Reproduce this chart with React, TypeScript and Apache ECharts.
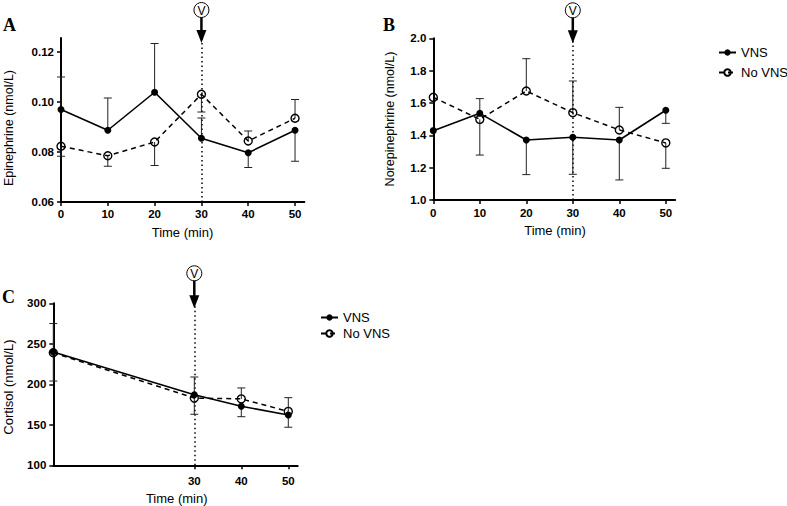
import React, { useEffect, useRef } from "react";
import * as echarts from "echarts";

// ---------- data ----------
const timesAB = [0, 10, 20, 30, 40, 50];
const timesC = [0, 30, 40, 50];
const xTicksAB = [0, 10, 20, 30, 40, 50];
const xTicksC = [30, 40, 50];

const epiTicks = [0.06, 0.08, 0.1, 0.12];
const epiVNS = [0.097, 0.0887, 0.1039, 0.0855, 0.0797, 0.0887];
const epiNoVNS = [0.0823, 0.0785, 0.084, 0.1031, 0.0844, 0.0935];
const epiVNSErr = [0.013, 0.0129, 0.0195, 0.0081, 0.0059, 0.0124];
const epiNoVNSErr = [0.004, 0.0042, 0.0094, 0.0071, 0.004, 0.0075];
const epiVNSDir = [1, 1, 1, 1, -1, -1];
const epiNoVNSDir = [-1, -1, -1, -1, 1, 1];

const neTicks = [1.0, 1.2, 1.4, 1.6, 1.8, 2.0];
const neVNS = [1.429, 1.536, 1.371, 1.388, 1.371, 1.555];
const neNoVNS = [1.635, 1.499, 1.674, 1.54, 1.433, 1.353];
const neVNSErr = [0, 0.091, 0.214, 0.229, 0.247, 0.081];
const neNoVNSErr = [0, 0.221, 0.2, 0.196, 0.14, 0.157];
const neVNSDir = [-1, 1, -1, -1, -1, -1];
const neNoVNSDir = [1, -1, 1, 1, 1, -1];

const cortTicks = [100, 150, 200, 250, 300];
const cortVNS = [240, 187, 173, 162];
const cortNoVNS = [239, 183, 182, 166.5];
const cortVNSErr = [35, 22, 13, 15];
const cortNoVNSErr = [35, 20, 13.5, 17];
const cortVNSDir = [1, 1, -1, -1];
const cortNoVNSDir = [-1, -1, 1, 1];

const interventionTime = 30;
const seriesNames = ["VNS", "No VNS"];

// ---------- styling helpers ----------
const SANS = "'Liberation Sans', Arial, sans-serif";
const SERIF = "'Liberation Serif', 'Times New Roman', serif";

function pairs(xs: number[], ys: number[]) {
  return xs.map((x, i) => [x, ys[i]]);
}

function errSeries(xs: number[], ys: number[], errs: number[], dirs: number[], gi: number) {
  const data = xs
    .map((x, i) => [x, ys[i], ys[i] + dirs[i] * errs[i]])
    .filter((d, i) => errs[i] > 0);
  return {
    type: "custom",
    name: "err" + gi,
    xAxisIndex: gi,
    yAxisIndex: gi,
    silent: true,
    clip: false,
    z: 1,
    encode: { x: 0, y: [1, 2] },
    data,
    renderItem: (_p: any, api: any) => {
      const a = api.coord([api.value(0), api.value(1)]);
      const b = api.coord([api.value(0), api.value(2)]);
      return {
        type: "group",
        children: [
          { type: "line", shape: { x1: a[0], y1: a[1], x2: b[0], y2: b[1] }, style: { stroke: "#222", lineWidth: 1 } },
          { type: "line", shape: { x1: b[0] - 4, y1: b[1], x2: b[0] + 4, y2: b[1] }, style: { stroke: "#222", lineWidth: 1 } },
        ],
      };
    },
  };
}

function vnsSeries(xs: number[], ys: number[], gi: number, withMark: boolean) {
  return {
    type: "line",
    name: seriesNames[0],
    xAxisIndex: gi,
    yAxisIndex: gi,
    data: pairs(xs, ys),
    symbol: "circle",
    symbolSize: 7,
    z: 3,
    itemStyle: { color: "#000" },
    lineStyle: { color: "#000", width: 1.6 },
    markLine: withMark
      ? {
          silent: true,
          symbol: "none",
          label: { show: false },
          lineStyle: { type: [1.5, 3], color: "#000", width: 1.5 },
          data: [{ xAxis: interventionTime }],
          z: 0,
        }
      : undefined,
  };
}

function noVnsSeries(xs: number[], ys: number[], gi: number) {
  return {
    type: "line",
    name: seriesNames[1],
    xAxisIndex: gi,
    yAxisIndex: gi,
    data: pairs(xs, ys),
    symbol: "circle",
    symbolSize: 8,
    z: 2,
    itemStyle: { color: "rgba(255,255,255,0)", borderColor: "#000", borderWidth: 1.4 },
    lineStyle: { color: "#000", width: 1.5, type: [5, 4] },
  };
}

function xAxisDef(gi: number, ticks: number[], margin: number) {
  return {
    type: "value",
    gridIndex: gi,
    min: 0,
    max: 52,
    axisLine: { show: true, onZero: false, lineStyle: { color: "#000", width: 2 } },
    axisTick: { show: true, length: 4, lineStyle: { color: "#000", width: 1.5 }, customValues: ticks },
    axisLabel: {
      customValues: ticks,
      color: "#000",
      fontWeight: "bold",
      fontSize: 11.5,
      fontFamily: SANS,
      margin,
    },
    splitLine: { show: false },
  };
}

function yAxisDef(gi: number, min: number, max: number, ticks: number[], digits: number) {
  return {
    type: "value",
    gridIndex: gi,
    min,
    max,
    axisLine: { show: true, onZero: false, lineStyle: { color: "#000", width: 2 } },
    axisTick: { show: true, length: 4, lineStyle: { color: "#000", width: 1.5 }, customValues: ticks },
    axisLabel: {
      customValues: ticks,
      color: "#000",
      fontWeight: "bold",
      fontSize: 11.5,
      fontFamily: SANS,
      margin: 7,
      formatter: (v: number) => v.toFixed(digits),
    },
    splitLine: { show: false },
  };
}

function txt(text: string, x: number, y: number, size: number, opts: any = {}) {
  return {
    type: "text",
    x,
    y,
    rotation: opts.rotation || 0,
    style: {
      text,
      fontSize: size,
      fontFamily: opts.font || SANS,
      fontWeight: opts.weight || "normal",
      fill: "#000",
      align: opts.align || "center",
      verticalAlign: opts.valign || "middle",
      textAlign: opts.align || "center",
      textVerticalAlign: opts.valign || "middle",
    },
  };
}

export default function App() {
  const ref = useRef<HTMLDivElement>(null);
  useEffect(() => {
    if (!ref.current) return;
    const chart = echarts.init(ref.current, undefined, { renderer: "svg" });
    const yMaxA = 0.1256;
    const yMaxB = 2.0;
    const yMaxC = 300;
    const legendText = { fontSize: 13, fontFamily: SANS, color: "#000" };
    chart.setOption({
      animation: false,
      backgroundColor: "#ffffff",
      grid: [
        { left: 61, top: 38, width: 243.4, height: 164, containLabel: false, outerBoundsMode: "none" },
        { left: 433.3, top: 38.3, width: 241.8, height: 161.7, containLabel: false, outerBoundsMode: "none" },
        { left: 53.3, top: 303.3, width: 244.4, height: 162, containLabel: false, outerBoundsMode: "none" },
      ],
      xAxis: [xAxisDef(0, xTicksAB, 6), xAxisDef(1, xTicksAB, 7), xAxisDef(2, xTicksC, 10)],
      yAxis: [
        yAxisDef(0, 0.06, yMaxA, epiTicks, 2),
        yAxisDef(1, 1.0, yMaxB, neTicks, 1),
        yAxisDef(2, 100, yMaxC, cortTicks, 0),
      ],
      legend: [
        {
          data: seriesNames,
          orient: "vertical",
          left: 713,
          top: 41,
          itemWidth: 17,
          itemHeight: 8,
          itemGap: 7,
          textStyle: legendText,
          selectedMode: false,
        },
        {
          data: seriesNames,
          orient: "vertical",
          left: 315,
          top: 306,
          itemWidth: 17,
          itemHeight: 8,
          itemGap: 3,
          textStyle: legendText,
          selectedMode: false,
        },
      ],
      series: [
        errSeries(timesAB, epiVNS, epiVNSErr, epiVNSDir, 0),
        errSeries(timesAB, epiNoVNS, epiNoVNSErr, epiNoVNSDir, 0),
        noVnsSeries(timesAB, epiNoVNS, 0),
        vnsSeries(timesAB, epiVNS, 0, true),
        errSeries(timesAB, neVNS, neVNSErr, neVNSDir, 1),
        errSeries(timesAB, neNoVNS, neNoVNSErr, neNoVNSDir, 1),
        noVnsSeries(timesAB, neNoVNS, 1),
        vnsSeries(timesAB, neVNS, 1, true),
        errSeries(timesC, cortVNS, cortVNSErr, cortVNSDir, 2),
        errSeries(timesC, cortNoVNS, cortNoVNSErr, cortNoVNSDir, 2),
        noVnsSeries(timesC, cortNoVNS, 2),
        vnsSeries(timesC, cortVNS, 2, true),
      ],
    });

    const g: any[] = [];
    const addArrow = (gi: number, topVal: number, dy: number) => {
      const p = chart.convertToPixel({ xAxisIndex: gi, yAxisIndex: gi } as any, [interventionTime, topVal]) as number[];
      const px = p[0];
      const py = p[1];
      const cy = py - dy;
      g.push({ type: "circle", shape: { cx: px, cy, r: 7.5 }, style: { fill: "#fff", stroke: "#000", lineWidth: 1 }, z: 10 });
      g.push({ ...txt("V", px, cy + 0.5, 12), z: 11 });
      g.push({ type: "line", shape: { x1: px, y1: cy + 7.5, x2: px, y2: py - 6 }, style: { stroke: "#000", lineWidth: 2.5 }, z: 10 });
      g.push({
        type: "polygon",
        shape: { points: [[px - 5, py - 8], [px + 5, py - 8], [px, py + 5]] },
        style: { fill: "#000" },
        z: 10,
      });
    };
    addArrow(0, yMaxA, 28);
    addArrow(1, yMaxB, 28);
    addArrow(2, yMaxC, 30);

    // panel letters
    g.push(txt("A", 3, 34, 18, { font: SERIF, weight: "bold", align: "left", valign: "bottom" }));
    g.push(txt("B", 383, 34, 18, { font: SERIF, weight: "bold", align: "left", valign: "bottom" }));
    g.push(txt("C", 2, 306, 18, { font: SERIF, weight: "bold", align: "left", valign: "bottom" }));
    // axis titles
    g.push(txt("Epinephrine (nmol/L)", 9, 128, 12.5, { rotation: Math.PI / 2 }));
    g.push(txt("Norepinephrine (nmol/L)", 390, 119, 12.5, { rotation: Math.PI / 2 }));
    g.push(txt("Cortisol (nmol/L)", 8, 387, 13, { rotation: Math.PI / 2 }));
    g.push(txt("Time (min)", 182.5, 232.5, 13));
    g.push(txt("Time (min)", 555, 230.5, 13));
    g.push(txt("Time (min)", 176.7, 498, 13));

    chart.setOption({ graphic: g });
    return () => chart.dispose();
  }, []);
  return <div ref={ref} style={{ position: "fixed", left: 0, top: 0, width: 787, height: 506 }} />;
}
